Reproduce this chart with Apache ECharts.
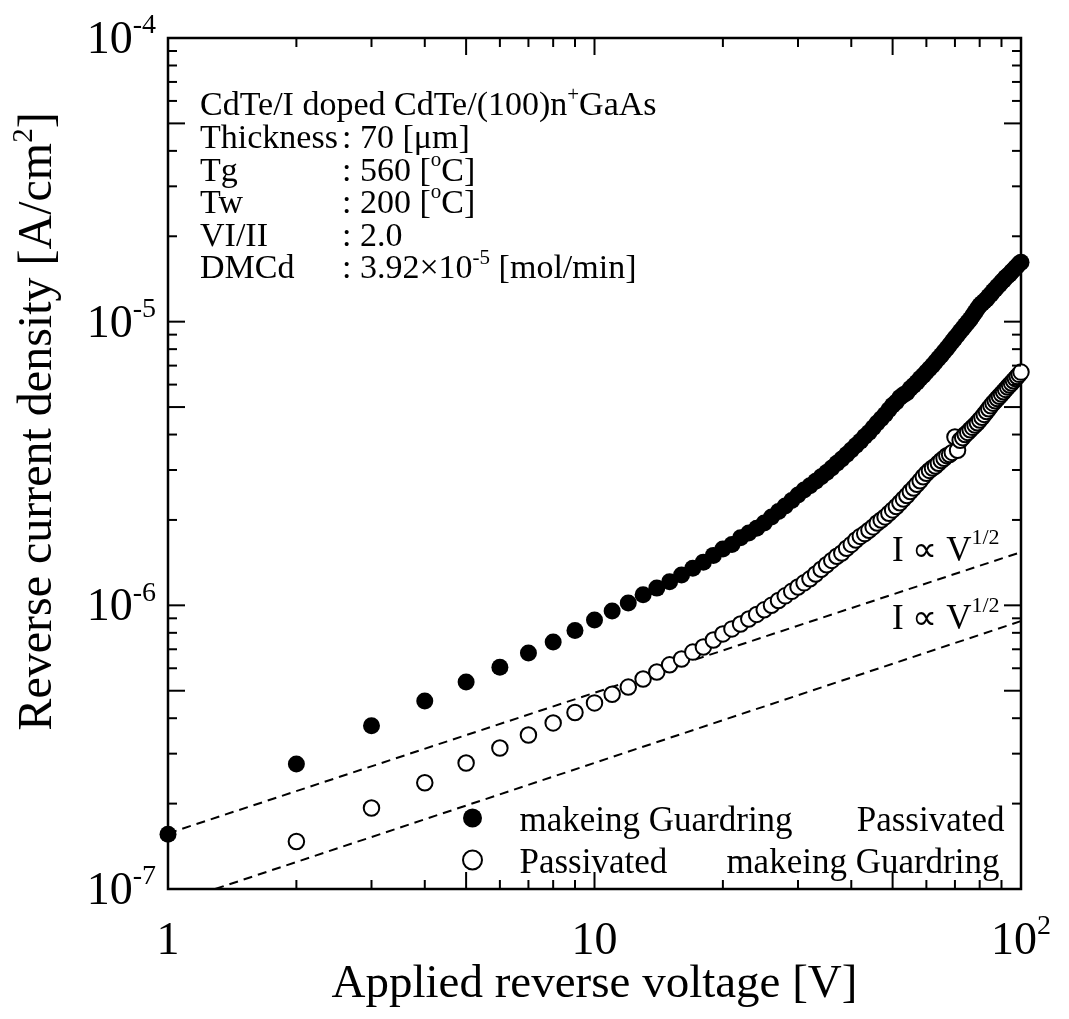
<!DOCTYPE html>
<html>
<head>
<meta charset="utf-8">
<script src="https://cdn.jsdelivr.net/npm/echarts@6/dist/echarts.min.js"></script>
<style>
  html, body { margin: 0; padding: 0; background: #fff; }
  #chart { width: 1069px; height: 1019px; }
</style>
</head>
<body>
<div id="chart"></div>
<script>
// Reverse I-V of CdTe/I-doped CdTe/(100)n+GaAs diodes, log-log.

// Applied reverse voltage [V] of each measured point
const guardFirstVoltage = [
  1, 2, 3, 4, 5, 6, 7, 8, 9, 10,
  11, 12, 13, 14, 15, 16, 17, 18, 19, 20,
  21, 22, 23, 24, 25, 26, 27, 28, 29, 30,
  31, 32, 33, 34, 35, 36, 37, 38, 39, 40,
  41, 42, 43, 44, 45, 46, 47, 48, 49, 50,
  51, 52, 53, 54, 55, 56, 57, 58, 59, 60,
  61, 62, 63, 64, 65, 66, 67, 68, 69, 70,
  71, 72, 73, 74, 75, 76, 77, 78, 79, 80,
  81, 82, 83, 84, 85, 86, 87, 88, 89, 90,
  91, 92, 93, 94, 95, 96, 97, 98, 99, 100
];
// Reverse current density [A/cm^2]: guard ring made first, then passivated
const guardFirstCurrent = [
  1.56e-7, 2.76e-7, 3.76e-7, 4.60e-7, 5.37e-7, 6.05e-7, 6.79e-7, 7.43e-7, 8.15e-7, 8.87e-7,
  9.55e-7, 1.02e-6, 1.09e-6, 1.15e-6, 1.21e-6, 1.28e-6, 1.35e-6, 1.42e-6, 1.50e-6, 1.58e-6,
  1.64e-6, 1.73e-6, 1.80e-6, 1.87e-6, 1.95e-6, 2.05e-6, 2.14e-6, 2.24e-6, 2.34e-6, 2.45e-6,
  2.55e-6, 2.64e-6, 2.74e-6, 2.84e-6, 2.94e-6, 3.05e-6, 3.17e-6, 3.28e-6, 3.40e-6, 3.53e-6,
  3.66e-6, 3.79e-6, 3.94e-6, 4.07e-6, 4.23e-6, 4.39e-6, 4.55e-6, 4.71e-6, 4.89e-6, 5.07e-6,
  5.21e-6, 5.40e-6, 5.52e-6, 5.62e-6, 5.81e-6, 5.96e-6, 6.12e-6, 6.30e-6, 6.46e-6, 6.64e-6,
  6.82e-6, 7.01e-6, 7.21e-6, 7.41e-6, 7.62e-6, 7.83e-6, 8.05e-6, 8.28e-6, 8.51e-6, 8.75e-6,
  8.97e-6, 9.23e-6, 9.46e-6, 9.71e-6, 9.95e-6, 1.02e-5, 1.05e-5, 1.08e-5, 1.11e-5, 1.14e-5,
  1.16e-5, 1.18e-5, 1.20e-5, 1.23e-5, 1.25e-5, 1.28e-5, 1.30e-5, 1.33e-5, 1.35e-5, 1.38e-5,
  1.40e-5, 1.43e-5, 1.45e-5, 1.47e-5, 1.50e-5, 1.52e-5, 1.55e-5, 1.57e-5, 1.60e-5, 1.62e-5
];

const passFirstVoltage = [
  2, 3, 4, 5, 6, 7, 8, 9, 10,
  11, 12, 13, 14, 15, 16, 17, 18, 19, 20,
  21, 22, 23, 24, 25, 26, 27, 28, 29, 30,
  31, 32, 33, 34, 35, 36, 37, 38, 39, 40,
  41, 42, 43, 44, 45, 46, 47, 48, 49, 50,
  51, 52, 53, 54, 55, 56, 57, 58, 59, 60,
  61, 62, 63, 64, 65, 66, 67, 68, 69, 70,
  71, 72, 73, 74, 75, 76, 77, 78, 79, 80,
  81, 82, 83, 84, 85, 86, 87, 88, 89, 90,
  91, 92, 93, 94, 95, 96, 97, 98, 99, 100
];
// Reverse current density [A/cm^2]: passivated first, then guard ring made
const passFirstCurrent = [
  1.47e-7, 1.93e-7, 2.37e-7, 2.78e-7, 3.14e-7, 3.49e-7, 3.85e-7, 4.19e-7, 4.53e-7,
  4.86e-7, 5.15e-7, 5.50e-7, 5.82e-7, 6.17e-7, 6.47e-7, 6.84e-7, 7.13e-7, 7.55e-7, 7.93e-7,
  8.26e-7, 8.59e-7, 8.95e-7, 9.29e-7, 9.64e-7, 1.00e-6, 1.04e-6, 1.08e-6, 1.12e-6, 1.16e-6,
  1.20e-6, 1.24e-6, 1.29e-6, 1.34e-6, 1.39e-6, 1.44e-6, 1.49e-6, 1.53e-6, 1.59e-6, 1.64e-6,
  1.70e-6, 1.75e-6, 1.79e-6, 1.84e-6, 1.89e-6, 1.95e-6, 2.00e-6, 2.05e-6, 2.11e-6, 2.17e-6,
  2.23e-6, 2.30e-6, 2.37e-6, 2.44e-6, 2.52e-6, 2.59e-6, 2.67e-6, 2.75e-6, 2.84e-6, 2.92e-6,
  2.99e-6, 3.05e-6, 3.10e-6, 3.17e-6, 3.24e-6, 3.30e-6, 3.37e-6, 3.40e-6, 3.46e-6, 3.92e-6,
  3.52e-6, 3.82e-6, 3.90e-6, 4.00e-6, 4.07e-6, 4.16e-6, 4.24e-6, 4.32e-6, 4.40e-6, 4.50e-6,
  4.60e-6, 4.71e-6, 4.82e-6, 4.93e-6, 5.05e-6, 5.16e-6, 5.26e-6, 5.36e-6, 5.46e-6, 5.56e-6,
  5.66e-6, 5.77e-6, 5.88e-6, 5.98e-6, 6.08e-6, 6.19e-6, 6.30e-6, 6.41e-6, 6.52e-6, 6.64e-6
];

// I ∝ V^1/2 guide lines (end points)
const sqrtUpperVoltage = [1, 100];
const sqrtUpperCurrent = [1.57e-7, 1.54e-6];
const sqrtLowerVoltage = [1.29, 100];
const sqrtLowerCurrent = [1.0e-7, 8.8e-7];

// Axis ranges and tick labels (base text and superscript)
const X_MIN = 1, X_MAX = 100, Y_MIN = 1e-7, Y_MAX = 1e-4;
const xLabelValues = [1, 10, 100];
const xLabelBase = ['1', '10', '10'];
const xLabelSup = ['', '', '2'];
const yLabelValues = [1e-7, 1e-6, 1e-5, 1e-4];
const yLabelBase = ['10', '10', '10', '10'];
const yLabelSup = ['-7', '-6', '-5', '-4'];

// Tick positions drawn inside the frame on all four sides
const xMajorTicks = [1, 5, 10, 50, 100];
const xMinorTicks = [2, 3, 4, 6, 7, 8, 9, 20, 30, 40, 60, 70, 80, 90];
const yMajorTicks = [1e-7, 5e-7, 1e-6, 5e-6, 1e-5, 5e-5, 1e-4];
const yMinorTicks = [
  2e-7, 3e-7, 4e-7, 6e-7, 7e-7, 8e-7, 9e-7,
  2e-6, 3e-6, 4e-6, 6e-6, 7e-6, 8e-6, 9e-6,
  2e-5, 3e-5, 4e-5, 6e-5, 7e-5, 8e-5, 9e-5
];

// Growth conditions block
const infoTitle = 'CdTe/I doped CdTe/(100)n^{+}GaAs';
const infoLabels = ['Thickness', 'Tg', 'Tw', 'VI/II', 'DMCd'];
const infoValues = [': 70 [μm]', ': 560 [^{o}C]', ': 200 [^{o}C]', ': 2.0', ': 3.92×10^{-5} [mol/min]'];

// Legend text: process order of each sample
const legendNames = ['guard-then-passivated', 'passivated-then-guard'];
const legendFirstStep = ['makeing Guardring', 'Passivated'];
const legendSecondStep = ['Passivated', 'makeing Guardring'];

const guideLabel = 'I ∝ V^{1/2}';

const FONT = '"Liberation Serif", "Times New Roman", Times, serif';

// Turn "a^{b}" markup into ECharts rich-text tokens
function toRich(str) {
  const parts = str.split(/\^\{([^}]*)\}/);
  let out = '';
  parts.forEach(function (p, i) {
    if (!p) return;
    out += (i % 2 === 1 ? '{s|' : '{b|') + p + '}';
  });
  return out;
}
function supRich(size, supSize, lineH) {
  return {
    b: { fontFamily: FONT, fontSize: size, lineHeight: lineH, verticalAlign: 'bottom', color: '#000' },
    s: { fontFamily: FONT, fontSize: supSize, lineHeight: supSize, verticalAlign: 'top', color: '#000' }
  };
}
function findIndex(vals, v) {
  for (let i = 0; i < vals.length; i++) {
    if (Math.abs(Math.log10(vals[i]) - Math.log10(v)) < 1e-6) return i;
  }
  return -1;
}
function pairs(xs, ys) {
  return xs.map(function (x, i) { return [x, ys[i]]; });
}

// Inside ticks drawn at axis values through the log scales
function tickSeries(vals, dir, len) {
  return {
    type: 'custom',
    silent: true,
    z: 6,
    data: vals.map(function (v) { return dir === 'x' ? [v, Y_MIN] : [X_MIN, v]; }),
    renderItem: function (params, api) {
      const cs = params.coordSys;
      const style = { stroke: '#000', lineWidth: 2 };
      if (dir === 'x') {
        const x = api.coord([api.value(0), Y_MIN])[0];
        const b = cs.y + cs.height, t = cs.y;
        return { type: 'group', children: [
          { type: 'line', shape: { x1: x, y1: b, x2: x, y2: b - len }, style: style },
          { type: 'line', shape: { x1: x, y1: t, x2: x, y2: t + len }, style: style }
        ] };
      }
      const y = api.coord([X_MIN, api.value(1)])[1];
      const l = cs.x, r = cs.x + cs.width;
      return { type: 'group', children: [
        { type: 'line', shape: { x1: l, y1: y, x2: l + len, y2: y }, style: style },
        { type: 'line', shape: { x1: r, y1: y, x2: r - len, y2: y }, style: style }
      ] };
    }
  };
}

const infoRich = supRich(34, 21, 39);
const graphics = [];
const infoTop = 104;
const infoStep = 32.6;
graphics.push({
  type: 'text', x: 200, y: infoTop, silent: true,
  style: { text: toRich(infoTitle), rich: infoRich, verticalAlign: 'middle', align: 'left' }
});
infoLabels.forEach(function (lab, i) {
  const y = infoTop + (i + 1) * infoStep;
  graphics.push({
    type: 'text', x: 200, y: y, silent: true,
    style: { text: toRich(lab), rich: infoRich, verticalAlign: 'middle', align: 'left' }
  });
  graphics.push({
    type: 'text', x: 342, y: y, silent: true,
    style: { text: toRich(infoValues[i]), rich: infoRich, verticalAlign: 'middle', align: 'left' }
  });
});
const guideRich = supRich(35, 22, 42);
[548, 616].forEach(function (y) {
  graphics.push({
    type: 'text', x: 892, y: y, silent: true,
    style: { text: toRich(guideLabel), rich: guideRich, verticalAlign: 'middle', align: 'left' }
  });
});

const legendRich = {
  a0: { fontFamily: FONT, fontSize: 35, lineHeight: 36, width: 300, color: '#000', padding: [7, 0, 0, 0] },
  b0: { fontFamily: FONT, fontSize: 35, lineHeight: 36, width: 185, align: 'right', color: '#000', padding: [7, 0, 0, 0] },
  a1: { fontFamily: FONT, fontSize: 35, lineHeight: 36, width: 200, color: '#000', padding: [7, 0, 0, 0] },
  b1: { fontFamily: FONT, fontSize: 35, lineHeight: 36, width: 280, align: 'right', color: '#000', padding: [7, 0, 0, 0] }
};

const option = {
  animation: false,
  backgroundColor: '#fff',
  textStyle: { fontFamily: FONT, color: '#000' },
  grid: {
    left: 168, right: 48, top: 38, bottom: 130,
    show: true, borderColor: '#000', borderWidth: 2.5, backgroundColor: 'transparent',
    outerBoundsMode: 'none', containLabel: false
  },
  legend: {
    data: legendNames,
    orient: 'vertical',
    left: 462, top: 797,
    padding: 0,
    itemGap: 0,
    itemWidth: 84, itemHeight: 19,
    selectedMode: false,
    textStyle: { fontFamily: FONT, fontSize: 35, color: '#000', rich: legendRich },
    formatter: function (name) {
      const i = legendNames.indexOf(name);
      return '{a' + i + '|' + legendFirstStep[i] + '}{b' + i + '|' + legendSecondStep[i] + '}';
    }
  },
  xAxis: {
    type: 'log', logBase: 10, min: X_MIN, max: X_MAX,
    name: 'Applied reverse voltage [V]',
    nameLocation: 'middle', nameGap: 72, nameMoveOverlap: false,
    nameTextStyle: { fontFamily: FONT, fontSize: 47, color: '#000' },
    axisLine: { show: false }, axisTick: { show: false }, splitLine: { show: false }, minorTick: { show: false },
    axisLabel: {
      margin: 24, color: '#000', showMinLabel: true, showMaxLabel: true,
      rich: supRich(46, 28, 52),
      formatter: function (v) {
        const i = findIndex(xLabelValues, v);
        if (i < 0) return '';
        return '{b|' + xLabelBase[i] + '}' + (xLabelSup[i] ? '{s|' + xLabelSup[i] + '}' : '');
      }
    }
  },
  yAxis: {
    type: 'log', logBase: 10, min: Y_MIN, max: Y_MAX,
    name: toRich('Reverse current density [A/cm^{2}]'),
    nameLocation: 'middle', nameGap: 106, nameMoveOverlap: false,
    nameTextStyle: { fontFamily: FONT, fontSize: 48, color: '#000', rich: supRich(48, 29, 52), padding: [0, 0, 0, 84] },
    axisLine: { show: false }, axisTick: { show: false }, splitLine: { show: false }, minorTick: { show: false },
    axisLabel: {
      margin: 12, color: '#000', showMinLabel: true, showMaxLabel: true,
      rich: supRich(46, 28, 52),
      formatter: function (v) {
        const i = findIndex(yLabelValues, v);
        if (i < 0) return '';
        return '{b|' + yLabelBase[i] + '}{s|' + yLabelSup[i] + '}';
      }
    }
  },
  graphic: graphics,
  series: [
    {
      type: 'line', name: 'sqrt-upper', silent: true, z: 2,
      data: pairs(sqrtUpperVoltage, sqrtUpperCurrent),
      symbol: 'none',
      lineStyle: { color: '#000', width: 2, type: [9, 6] }
    },
    {
      type: 'line', name: 'sqrt-lower', silent: true, z: 2,
      data: pairs(sqrtLowerVoltage, sqrtLowerCurrent),
      symbol: 'none',
      lineStyle: { color: '#000', width: 2, type: [9, 6] }
    },
    {
      type: 'scatter', name: legendNames[0], z: 3,
      data: pairs(guardFirstVoltage, guardFirstCurrent),
      symbol: 'circle', symbolSize: 17,
      itemStyle: { color: '#000', opacity: 1 }
    },
    {
      type: 'scatter', name: legendNames[1], z: 3,
      data: pairs(passFirstVoltage, passFirstCurrent),
      symbol: 'circle', symbolSize: 15.5,
      itemStyle: { color: '#fff', borderColor: '#000', borderWidth: 2, opacity: 1 }
    },
    tickSeries(xMajorTicks, 'x', 17),
    tickSeries(xMinorTicks, 'x', 9),
    tickSeries(yMajorTicks, 'y', 17),
    tickSeries(yMinorTicks, 'y', 9)
  ]
};

const chart = echarts.init(document.getElementById('chart'), null, { renderer: 'canvas' });
chart.setOption(option);
</script>
</body>
</html>
